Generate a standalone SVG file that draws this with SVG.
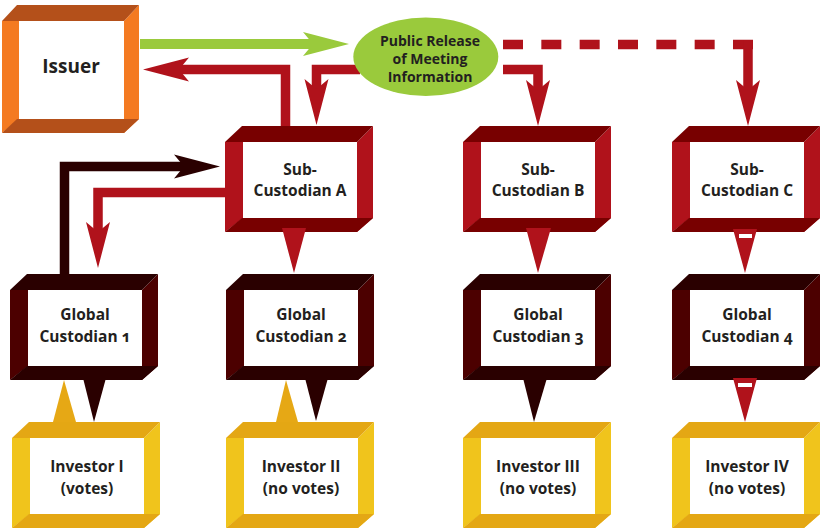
<svg xmlns="http://www.w3.org/2000/svg" xmlns:xlink="http://www.w3.org/1999/xlink" width="820" height="529" viewBox="0 0 820 529">
  <style>
    .lbl { font-family: "Open Sans", "Noto Sans", "Liberation Sans", sans-serif; font-weight: 700; fill: #231F20; text-anchor: middle; font-variant-numeric: oldstyle-nums; font-feature-settings: "onum" 1; }
    .box { font-size: 15.5px; }
    .issuer { --dk: #B4501A; --lt: #F47A21; }
    .sub { --dk: #780000; --lt: #B0121B; }
    .glob { --dk: #2A0000; --lt: #4C0000; }
    .inv { --dk: #E4A714; --lt: #F0C41C; }
    .dk { fill: var(--dk); }
    .lt { fill: var(--lt); }
    .red { fill: none; stroke: #B0121B; stroke-width: 9.5; }
    .grn { fill: none; stroke: #9ACA3C; stroke-width: 10; }
    .drk { fill: none; stroke: #2A0000; stroke-width: 9.5; }
    .tri-red { fill: #B0121B; }
    .tri-drk { fill: #2A0000; }
    .tri-gold { fill: #E6A815; }
  </style>
  <defs>
    <!-- open 3D frame, 148 x 106 -->
    <g id="frame">
      <polygon points="0,16 18,16 18,92 0,106" style="fill: var(--lt)"/>
      <polygon points="132,16 148,0 148,92 132,106" style="fill: var(--lt)"/>
      <polygon points="0,16 17,0 148,0 132,16" style="fill: var(--dk)"/>
      <polygon points="0,106 17,92 148,92 132,106" style="fill: var(--dk)"/>
      <rect x="18" y="16" width="114" height="76" fill="#FFFFFF"/>
    </g>
    <marker id="head-red" viewBox="-10 -12 46 24" markerWidth="46" markerHeight="24" refX="0" refY="0" markerUnits="userSpaceOnUse" orient="auto" overflow="visible">
      <polygon points="-10,-12 36,0 -10,12 0,0" fill="#B0121B"/>
    </marker>
    <marker id="head-grn" viewBox="-10 -12 46 24" markerWidth="46" markerHeight="24" refX="0" refY="0" markerUnits="userSpaceOnUse" orient="auto" overflow="visible">
      <polygon points="-10,-12 36,0 -10,12 0,0" fill="#9ACA3C"/>
    </marker>
    <marker id="head-drk" viewBox="-10 -12 46 24" markerWidth="46" markerHeight="24" refX="0" refY="0" markerUnits="userSpaceOnUse" orient="auto" overflow="visible">
      <polygon points="-10,-12 36,0 -10,12 0,0" fill="#2A0000"/>
    </marker>
  </defs>

  <rect width="820" height="529" fill="#FFFFFF"/>

  <!-- Issuer -->
  <g id="issuer" class="issuer">
    <polygon class="lt" points="2,21 19,21 19,119 2,133"/>
    <polygon class="lt" points="124,21 139,5 139,119 124,133"/>
    <polygon class="dk" points="2,21 17,5 139,5 124,21"/>
    <polygon class="dk" points="2,133 17,119 139,119 124,133"/>
    <rect x="19" y="21" width="105" height="98" fill="#FFFFFF"/>
    <text class="lbl" x="71" y="73" font-size="19">Issuer</text>
  </g>

  <!-- Sub-custodians -->
  <g id="sub-custodian-a" class="sub" transform="translate(225,126)">
    <use xlink:href="#frame"/>
    <text class="lbl box" x="75" y="49">Sub-</text>
    <text class="lbl box" x="75" y="70">Custodian A</text>
  </g>
  <g id="sub-custodian-b" class="sub" transform="translate(463,126)">
    <use xlink:href="#frame"/>
    <text class="lbl box" x="75" y="49">Sub-</text>
    <text class="lbl box" x="75" y="70">Custodian B</text>
  </g>
  <g id="sub-custodian-c" class="sub" transform="translate(672,126)">
    <use xlink:href="#frame"/>
    <text class="lbl box" x="75" y="49">Sub-</text>
    <text class="lbl box" x="75" y="70">Custodian C</text>
  </g>

  <!-- Global custodians -->
  <g id="global-custodian-1" class="glob" transform="translate(10,274)">
    <use xlink:href="#frame"/>
    <text class="lbl box" x="75" y="46">Global</text>
    <text class="lbl box" x="75" y="68">Custodian 1</text>
  </g>
  <g id="global-custodian-2" class="glob" transform="translate(226,274)">
    <use xlink:href="#frame"/>
    <text class="lbl box" x="75" y="46">Global</text>
    <text class="lbl box" x="75" y="68">Custodian 2</text>
  </g>
  <g id="global-custodian-3" class="glob" transform="translate(463,274)">
    <use xlink:href="#frame"/>
    <text class="lbl box" x="75" y="46">Global</text>
    <text class="lbl box" x="75" y="68">Custodian 3</text>
  </g>
  <g id="global-custodian-4" class="glob" transform="translate(672,274)">
    <use xlink:href="#frame"/>
    <text class="lbl box" x="75" y="46">Global</text>
    <text class="lbl box" x="75" y="68">Custodian 4</text>
  </g>

  <!-- Investors -->
  <g id="investor-1" class="inv" transform="translate(12,422)">
    <use xlink:href="#frame"/>
    <text class="lbl box" x="75" y="50">Investor I</text>
    <text class="lbl box" x="75" y="72">(votes)</text>
  </g>
  <g id="investor-2" class="inv" transform="translate(226,422)">
    <use xlink:href="#frame"/>
    <text class="lbl box" x="75" y="50">Investor II</text>
    <text class="lbl box" x="75" y="72">(no votes)</text>
  </g>
  <g id="investor-3" class="inv" transform="translate(463,422)">
    <use xlink:href="#frame"/>
    <text class="lbl box" x="75" y="50">Investor III</text>
    <text class="lbl box" x="75" y="72">(no votes)</text>
  </g>
  <g id="investor-4" class="inv" transform="translate(672,422)">
    <use xlink:href="#frame"/>
    <text class="lbl box" x="75" y="50">Investor IV</text>
    <text class="lbl box" x="75" y="72">(no votes)</text>
  </g>

  <!-- Connectors -->
  <g id="connectors">
    <!-- issuer to public release -->
    <path class="grn" d="M140,44 H313" marker-end="url(#head-grn)"/>
    <!-- sub-custodian A back to issuer -->
    <path class="red" d="M285.5,126 V69.5 H179" marker-end="url(#head-red)"/>
    <!-- public release to sub-custodians -->
    <path class="red" d="M360,69.5 H316.5 V89" marker-end="url(#head-red)"/>
    <path class="red" d="M503,69.5 H538 V90" marker-end="url(#head-red)"/>
    <path class="red" d="M503,44.5 H753" stroke-width="9" stroke-dasharray="20 18.333"/>
    <path class="red" d="M748,40 V90" stroke-width="10" marker-end="url(#head-red)"/>
    <!-- global custodian 1 and sub-custodian A -->
    <path class="drk" d="M64.5,274 V166.5 H184" marker-end="url(#head-drk)"/>
    <path class="red" d="M225,192.5 H98 V232" marker-end="url(#head-red)"/>
    <!-- sub-custodians to global custodians -->
    <polygon class="tri-red" points="282,228 306,228 294,273"/>
    <polygon class="tri-red" points="526,228 551,228 538,273"/>
    <polygon class="tri-red" points="733,229 757,229 745,273"/>
    <rect x="739" y="234" width="13" height="4" fill="#FFFFFF"/>
    <!-- global custodians and investors -->
    <polygon class="tri-drk" points="83,378 106,378 94,422"/>
    <polygon class="tri-gold" points="53,422 76,422 64,380"/>
    <polygon class="tri-drk" points="305,378 328,378 316,421"/>
    <polygon class="tri-gold" points="276,422 298,422 286,380"/>
    <polygon class="tri-drk" points="523,378 547,378 534,422"/>
    <polygon class="tri-red" points="733,378 757,378 745,422"/>
    <rect x="738" y="383" width="14" height="4" fill="#FFFFFF"/>
  </g>

  <!-- Public release of meeting information -->
  <g id="public-release">
    <ellipse cx="425.8" cy="56.7" rx="72.5" ry="39.3" fill="#9ACA3C"/>
    <text class="lbl" x="430" y="46" font-size="14">Public Release</text>
    <text class="lbl" x="430" y="64" font-size="14">of Meeting</text>
    <text class="lbl" x="430" y="82" font-size="14">Information</text>
  </g>
</svg>
